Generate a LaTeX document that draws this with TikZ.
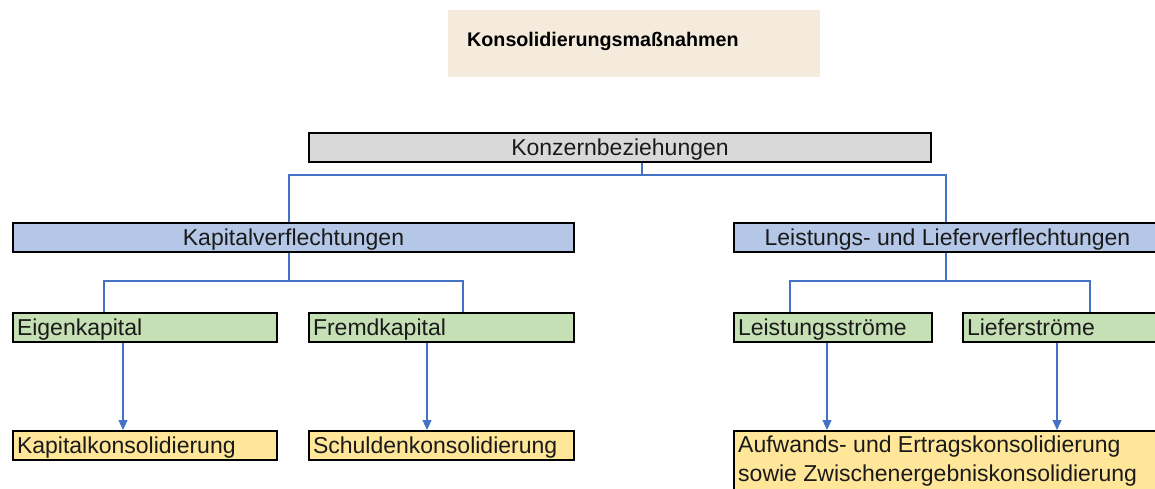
\documentclass[tikz,border=0pt]{standalone}
\usepackage{fontspec}
\setmainfont{Liberation Sans}
\usetikzlibrary{arrows.meta}
\definecolor{titlebg}{HTML}{F5EBDC}
\definecolor{graybg}{HTML}{D9D9D9}
\definecolor{bluebg}{HTML}{B4C7E7}
\definecolor{greenbg}{HTML}{C5E0B4}
\definecolor{yellowbg}{HTML}{FFE699}
\definecolor{linec}{HTML}{4472C4}
\definecolor{txt}{HTML}{1A1A1A}
\tikzset{
  boxc/.style={draw=black, line width=2pt, inner sep=0pt, anchor=north west, text=txt,
    font=\fontsize{23}{28}\selectfont, text height=19.5pt, text depth=3pt},
  boxl/.style={boxc, inner xsep=4pt, align=left},
  conn/.style={draw=linec, line width=1.1pt},
  arr/.style={conn, -{Triangle[width=9pt,length=10pt]}, fill=linec},
}
\begin{document}
\begin{tikzpicture}[x=1pt,y=-1pt]
\useasboundingbox (0,0) rectangle (1155,488);
\clip (0,0) rectangle (1155,488);
% title
\node[fill=titlebg, anchor=north west, minimum width=372pt, minimum height=67pt, inner sep=0pt] (title) at (448,10) {};
\node[anchor=west, inner sep=0pt, font=\bfseries\fontsize{19.7}{24}\selectfont, text=black] (titletxt) at (467,41) {Konsolidierungsmaßnahmen};
% level 1
\node[boxc, fill=graybg, minimum width=622pt, minimum height=29pt] (konz) at (308,132) {Konzernbeziehungen};
% level 2
\node[boxc, fill=bluebg, minimum width=561pt, minimum height=29pt] (kap) at (12,222) {Kapitalverflechtungen};
\node[boxc, fill=bluebg, minimum width=427pt, minimum height=29pt] (leist) at (733,222) {Leistungs- und Lieferverflechtungen};
% level 3
\node[boxl, fill=greenbg, text width=256pt, minimum height=29pt] (eigen) at (12,312) {Eigenkapital};
\node[boxl, fill=greenbg, text width=257pt, minimum height=29pt] (fremd) at (308,312) {Fremdkapital};
\node[boxl, fill=greenbg, text width=190pt, minimum height=29pt] (lstr) at (733,312) {Leistungsströme};
\node[boxl, fill=greenbg, text width=190pt, minimum height=29pt] (lief) at (962,312) {Lieferströme};
% level 4
\node[boxl, fill=yellowbg, text width=256pt, minimum height=29pt] (kk) at (12,430) {Kapitalkonsolidierung};
\node[boxl, fill=yellowbg, text width=257pt, minimum height=29pt] (sk) at (308,430) {Schuldenkonsolidierung};
\node[draw=black, line width=2pt, inner sep=0pt, anchor=north west, fill=yellowbg, minimum width=427pt, minimum height=75pt] (auf) at (733,430) {};
\node[anchor=north west, inner sep=0pt, align=left, text=txt, font=\fontsize{23}{28.5}\selectfont] (auftxt) at (738,436) {Aufwands- und Ertragskonsolidierung\\sowie Zwischenergebniskonsolidierung};
% connectors level 1 -> 2
\coordinate (j1) at (642,175);
\coordinate (a1) at (289,175);
\coordinate (a2) at (946,175);
\draw[conn] (konz.south -| j1) -- (j1);
\draw[conn] (a1 |- kap.north) -- (a1) -- (a2) -- (a2 |- leist.north);
% connectors level 2 -> 3
\coordinate (j2) at (289,281);
\coordinate (b1) at (104,281);
\coordinate (b2) at (463,281);
\draw[conn] (kap.south -| j2) -- (j2);
\draw[conn] (b1 |- eigen.north) -- (b1) -- (b2) -- (b2 |- fremd.north);
\coordinate (j3) at (946,281);
\coordinate (c1) at (790,281);
\coordinate (c2) at (1090,281);
\draw[conn] (leist.south -| j3) -- (j3);
\draw[conn] (c1 |- lstr.north) -- (c1) -- (c2) -- (c2 |- lief.north);
% arrows level 3 -> 4
\coordinate (d1) at (123,400);
\coordinate (d2) at (427,400);
\coordinate (d3) at (827,400);
\coordinate (d4) at (1057,400);
\draw[arr] (eigen.south -| d1) -- (kk.north -| d1);
\draw[arr] (fremd.south -| d2) -- (sk.north -| d2);
\draw[arr] (lstr.south -| d3) -- (auf.north -| d3);
\draw[arr] (lief.south -| d4) -- (auf.north -| d4);
\end{tikzpicture}
\end{document}
